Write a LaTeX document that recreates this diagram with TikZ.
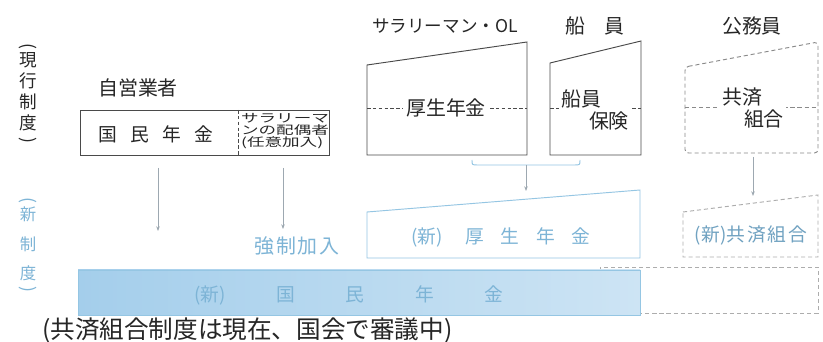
\documentclass[tikz,border=0pt]{standalone}
\usepackage{fontspec}
\usepackage{xcolor}
\usepackage{tikz}
\usetikzlibrary{positioning,arrows.meta}

\newfontfamily\jp{Noto Sans CJK JP}
\newfontfamily\jpwide[FakeStretch=1.5]{Noto Sans CJK JP}

\definecolor{newblue}{HTML}{7DB4D6}
\definecolor{boxblue}{HTML}{95C6E3}
\definecolor{barleft}{HTML}{A4CEEB}
\definecolor{barright}{HTML}{CDE4F4}
\definecolor{arrowgray}{HTML}{9DA8B1}
\definecolor{dashgray}{HTML}{8A8A8A}
\definecolor{linegray}{HTML}{4A4A4A}

\begin{document}
\begin{tikzpicture}[
					x=0.3mm, y=-0.3mm,
					lbl/.style={
						font=\jp\fontsize{17}{19}\selectfont,
						inner sep=0pt, text=black!85
					},
					newlbl/.style={
						font=\jp\fontsize{16}{18}\selectfont,
						inner sep=0pt, text=newblue
					},
					vlabel/.style={
						align=center, inner sep=0pt
					},
					vparen/.style={
						rotate=-90, inner sep=0pt, font=\jp\fontsize{15}{18}\selectfont
					},
					boxline/.style={draw=linegray, line width=0.8pt},
					midline/.style={draw=linegray, line width=0.5pt, dash pattern=on 3pt off 2pt},
					dashbox/.style={draw=dashgray, line width=0.8pt, dash pattern=on 3.5pt off 2.5pt},
					newbox/.style={draw=boxblue, line width=0.8pt},
					arr/.style={draw=arrowgray, line width=0.6pt, -{Stealth[length=4pt, width=3pt]}}
					]
					\useasboundingbox[fill=white] (0,0) rectangle (823,342);
					
					% --- NHAN DOC: hien hanh / moi ---
					\node[vlabel, font=\jp\fontsize{15}{18}\selectfont, text=black!85] (genko) at (28,92)
						{現\\行\\制\\度};
					\node[vparen, text=black!85] (genko-o) at (28,46) {(};
					\node[vparen, text=black!85] (genko-c) at (28,140) {)};
					\node[vlabel, font=\jp\fontsize{14}{25}\selectfont, text=newblue] (shinsei) at (28,244)
						{新\\制\\度};
					\node[vparen, text=newblue] (shinsei-o) at (28,200) {(};
					\node[vparen, text=newblue] (shinsei-c) at (28,289) {)};
					
					% --- HANG TREN: cac loai nguoi ---
					\node[lbl] (jiei) at (138,88) {自営業者};
					\node[lbl, font=\jp\fontsize{15}{17}\selectfont] (sarary) at (445,26) {サラリーマン・OL};
					\node[lbl] (senin-t) at (595,26) {船\hspace{1em}員};
					\node[lbl] (komuin) at (752,26) {公務員};
					
					% --- Kokumin nenkin (hien hanh) ---
					\draw[boxline] (80,110) rectangle (329,155);
					\draw[midline] (238,110) -- (238,155);
					\node[lbl, font=\jp\fontsize{16}{18}\selectfont] (kokumin) at (156,134)
						{国\hspace{0.7em}民\hspace{0.7em}年\hspace{0.7em}金};
					\node[lbl, font=\jpwide\fontsize{10}{10.3}\selectfont, align=left] (haigu) at (285,131)
						{サラリーマ\\ンの配偶者\\(任意加入)};
					
					% --- Kosei nenkin + Senin hoken ---
					\draw[boxline] (367,65) -- (527,42) -- (527,155) -- (367,155) -- cycle;
					\draw[midline] (367,108) -- (527,108);
					\node[lbl, fill=white, inner xsep=3pt, inner ysep=1pt] (kosei) at (446,108) {厚生年金};
					
					\draw[boxline] (550,63) -- (641,41) -- (641,155) -- (550,155) -- cycle;
					\draw[midline] (550,108) -- (641,108);
					\node[lbl, fill=white, align=left, inner xsep=1pt, inner ysep=1pt] (senin) at (595,110)
						{船員\\\hspace{1.4em}保険};
					
					% --- Kyosai kumiai (net dut) ---
					\draw[dashbox, rounded corners=3] (685,67) -- (818,42) -- (818,153) -- (685,153) -- cycle;
					\draw[dashbox, line width=0.6pt] (685,107) -- (818,107);
					\node[lbl, fill=white, align=left, inner xsep=2pt, inner ysep=1pt] (kyosai) at (753,108)
						{共済\\\hspace{1.1em}組合};
					
					% --- Ngoac duoi kosei / senin ---
					\draw[boxblue, line width=0.8pt] (472,160) .. controls (472,165) .. (478,165)
						-- (574,165) .. controls (580,165) .. (580,160);
					\coordinate (brmid) at (526,165);
					
					% --- Mui ten ---
					\coordinate (k1s) at (158,168);
					\coordinate (k1e) at (158,231);
					\coordinate (k2s) at (283,168);
					\coordinate (k2e) at (283,229);
					\coordinate (koe) at (526,191);
					\coordinate (kys) at (753,157);
					\coordinate (kye) at (753,196);
					\draw[arr] (k1s) -- (k1e);
					\draw[arr] (k2s) -- (k2e);
					\draw[arr] (brmid) -- (koe);
					\draw[arr] (kys) -- (kye);
					
					\node[newlbl, font=\jp\fontsize{17}{19}\selectfont] (kyosei) at (297,246)
						{強\hspace{0.1em}制\hspace{0.1em}加\hspace{0.1em}入};
					
					% --- CHE DO MOI ---
					\draw[newbox] (367,212) -- (640,190) -- (640,258) -- (367,258) -- cycle;
					\node[newlbl] (shinkosei) at (501,237)
						{(新)\hspace{1.2em}厚\hspace{0.9em}生\hspace{0.9em}年\hspace{0.9em}金};
					
					\draw[dashbox, draw=dashgray!70] (683,212) -- (818,195) -- (818,257) -- (683,257) -- cycle;
					\node[newlbl, text=newblue!90!black] (shinkyosai) at (751,235) {(新)共\hspace{0.1em}済\hspace{0.1em}組\hspace{0.1em}合};
					
					\draw[dashbox, draw=dashgray!70] (600,267) rectangle (818,313);
					\path[left color=barleft, right color=barright, draw=boxblue, line width=0.8pt]
						(78,270) rectangle (640,315);
					\node[newlbl] (shinkokumin) at (349,295)
						{(新)\hspace{2.7em}国\hspace{2.7em}民\hspace{2.7em}年\hspace{2.7em}金};
					
					% --- Ghi chu ---
					\node[lbl, font=\jp\fontsize{21}{23}\selectfont, anchor=west] (note) at (42,331)
						{(共済組合制度は現在、国会で審議中)};
					
				\end{tikzpicture}
\end{document}
